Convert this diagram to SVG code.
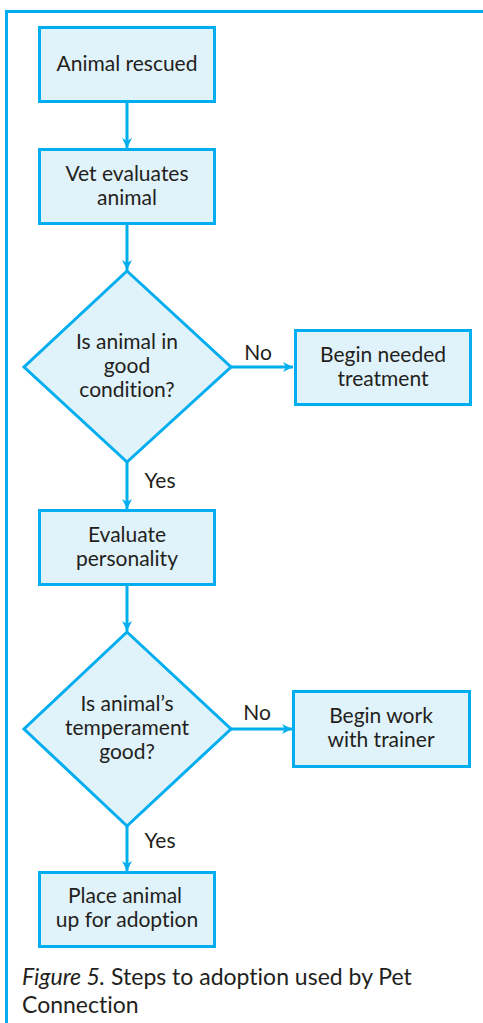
<svg xmlns="http://www.w3.org/2000/svg" width="483" height="1023" viewBox="0 0 483 1023">
<style>
.box{fill:#e0f2fa;stroke:#00aeef;stroke-width:3}
.ln{fill:none;stroke:#00aeef;stroke-width:3}
text{font-family:Lato,"Liberation Sans",sans-serif;font-size:21px;fill:#231f20;text-anchor:middle;font-variant-ligatures:none}
.cap{text-anchor:start;font-size:23px}
</style>
<defs>
<marker id="ah" viewBox="0 0 10 10" refX="10" refY="5" markerWidth="10" markerHeight="10" markerUnits="userSpaceOnUse" orient="auto">
<path d="M0,0 L10,5 L0,10 L3,5 Z" fill="#00aeef"/>
</marker>
</defs>
<path class="ln" d="M6.5,1023 V11.5 H483"/>
<g id="connectors">
<line class="ln" x1="127" y1="102" x2="127" y2="148" marker-end="url(#ah)"/>
<line class="ln" x1="127" y1="224" x2="127" y2="270" marker-end="url(#ah)"/>
<line class="ln" x1="231" y1="367" x2="293" y2="367" marker-end="url(#ah)"/>
<text x="258" y="360">No</text>
<line class="ln" x1="127" y1="462" x2="127" y2="509" marker-end="url(#ah)"/>
<text x="160" y="488">Yes</text>
<line class="ln" x1="127" y1="585" x2="127" y2="631" marker-end="url(#ah)"/>
<line class="ln" x1="231" y1="729" x2="292" y2="729" marker-end="url(#ah)"/>
<text x="257" y="720">No</text>
<line class="ln" x1="127" y1="826" x2="127" y2="871" marker-end="url(#ah)"/>
<text x="160" y="848">Yes</text>
</g>
<g id="n1"><rect class="box" x="39.5" y="27.5" width="175" height="74"/><text x="127" y="71">Animal rescued</text></g>
<g id="n2"><rect class="box" x="39.5" y="149.5" width="175" height="74"/><text x="127" y="181">Vet evaluates</text><text x="127" y="205">animal</text></g>
<g id="n3"><polygon class="box" points="127,271 231,367 127,462 24,367"/><text x="127" y="349">Is animal in</text><text x="127" y="373">good</text><text x="127" y="397">condition?</text></g>
<g id="n4"><rect class="box" x="295.5" y="330.5" width="175" height="74"/><text x="383" y="362">Begin needed</text><text x="383" y="386">treatment</text></g>
<g id="n5"><rect class="box" x="39.5" y="510.5" width="175" height="74"/><text x="127" y="542">Evaluate</text><text x="127" y="566">personality</text></g>
<g id="n6"><polygon class="box" points="127,632 231,729 127,826 24,729"/><text x="127" y="711">Is animal’s</text><text x="127" y="735">temperament</text><text x="127" y="759">good?</text></g>
<g id="n7"><rect class="box" x="293.5" y="691.5" width="176" height="75"/><text x="381" y="723">Begin work</text><text x="381" y="747">with trainer</text></g>
<g id="n8"><rect class="box" x="39.5" y="872.5" width="175" height="74"/><text x="125" y="903">Place animal</text><text x="127" y="927">up for adoption</text></g>
<g id="caption"><text class="cap" x="22" y="985"><tspan font-style="italic">Figure 5.</tspan> Steps to adoption used by Pet</text><text class="cap" x="22" y="1013">Connection</text></g>
</svg>
